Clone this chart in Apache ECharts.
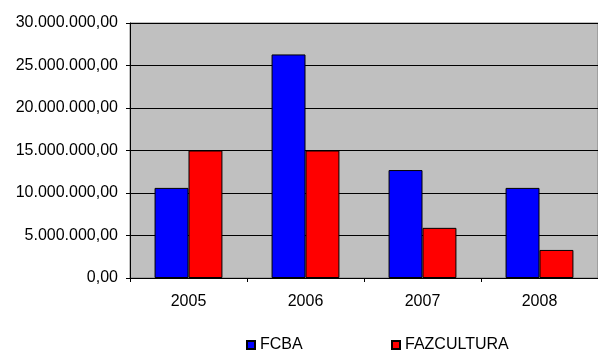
<!DOCTYPE html>
<html>
<head>
<meta charset="utf-8">
<script src="https://cdn.jsdelivr.net/npm/echarts@6/dist/echarts.min.js"></script>
<style>
  html, body { margin: 0; padding: 0; background: #fff; }
  #chart { width: 598px; height: 351px; }
</style>
</head>
<body>
<div id="chart"></div>
<script>
// Anos e valores por programa
const years = ['2005', '2006', '2007', '2008'];
const fcba = [10600000, 26300000, 12700000, 10600000];
const fazcultura = [15000000, 15000000, 5900000, 3300000];
const yTicks = [0, 5000000, 10000000, 15000000, 20000000, 25000000, 30000000];

const font = 'Arial, "Liberation Sans", sans-serif';

// Formato brasileiro: 25.000.000,00
function fmtBR(v) {
  const parts = Math.round(v).toString().replace(/\B(?=(\d{3})+(?!\d))/g, '.');
  return parts + ',00';
}

const chart = echarts.init(document.getElementById('chart'), null, { renderer: 'canvas' });

const legendText = { fontFamily: font, fontSize: 16, color: '#000' };

chart.setOption({
  animation: false,
  backgroundColor: '#fff',
  grid: {
    left: 130, top: 23, width: 470, height: 255,
    show: true, backgroundColor: '#c0c0c0', borderColor: '#808080', borderWidth: 1
  },
  legend: [
    {
      data: ['FCBA'], left: 246, top: 337, itemWidth: 8, itemHeight: 8, itemGap: 0,
      icon: 'rect', textStyle: legendText, padding: 0
    },
    {
      data: ['FAZCULTURA'], left: 391, top: 337, itemWidth: 8, itemHeight: 8, itemGap: 0,
      icon: 'rect', textStyle: legendText, padding: 0
    }
  ],
  xAxis: {
    type: 'category',
    data: years,
    axisLine: { lineStyle: { color: '#000', width: 1 } },
    axisTick: { show: true, length: 4, inside: false, alignWithLabel: false, lineStyle: { color: '#000' } },
    axisLabel: { fontFamily: font, fontSize: 16, color: '#000', margin: 16 },
    splitLine: { show: false }
  },
  yAxis: {
    type: 'value',
    min: yTicks[0],
    max: yTicks[yTicks.length - 1],
    interval: yTicks[1] - yTicks[0],
    axisLine: { show: true, lineStyle: { color: '#000', width: 1 } },
    axisTick: { show: true, length: 4, lineStyle: { color: '#000' } },
    axisLabel: { fontFamily: font, fontSize: 16, color: '#000', margin: 12, formatter: fmtBR },
    splitLine: { show: true, lineStyle: { color: '#000', width: 1 } }
  },
  series: [
    {
      name: 'FCBA', type: 'bar', data: fcba,
      barGap: '0%', barCategoryGap: '42%',
      itemStyle: { color: '#0000ff', borderColor: '#000', borderWidth: 1 }
    },
    {
      name: 'FAZCULTURA', type: 'bar', data: fazcultura,
      barGap: '0%', barCategoryGap: '42%',
      itemStyle: { color: '#ff0000', borderColor: '#000', borderWidth: 1 }
    }
  ]
});
</script>
</body>
</html>
